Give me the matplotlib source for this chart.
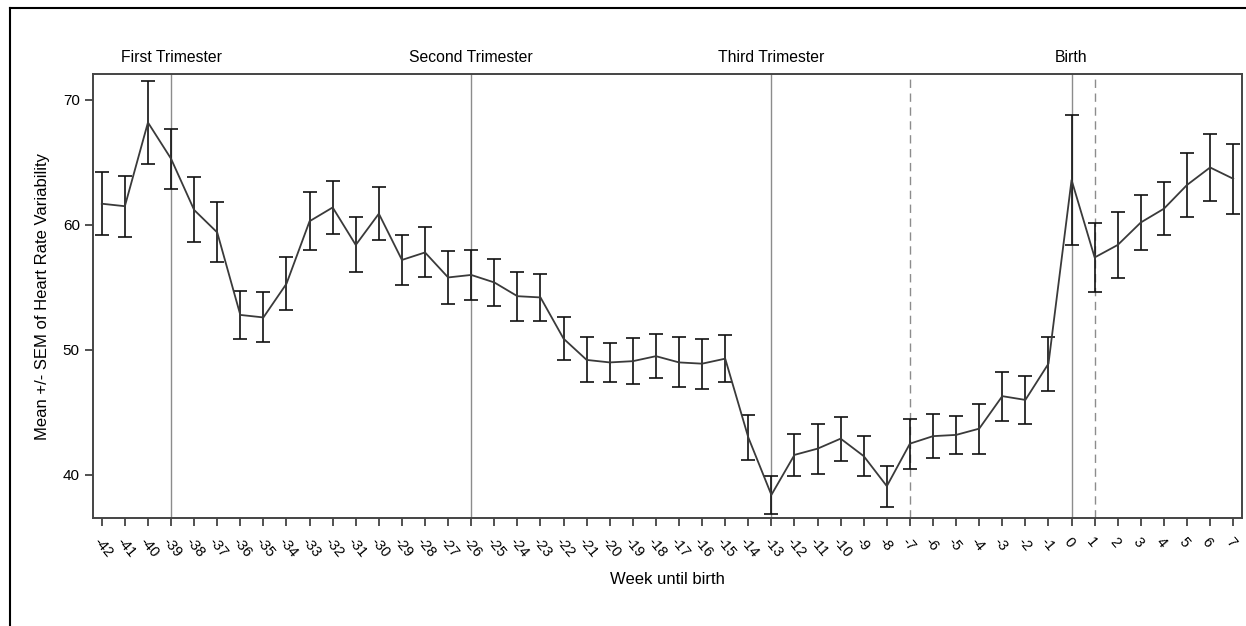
import matplotlib
matplotlib.use("Agg")
import matplotlib.pyplot as plt
from matplotlib.lines import Line2D

plt.rcParams["font.family"] = ["Liberation Sans", "DejaVu Sans"]

# ---------- data ----------
weeks = list(range(-42, 8))
hrv_mean = [61.7, 61.5, 68.2, 65.3, 61.2, 59.4, 52.8, 52.6, 55.3, 60.3,
            61.4, 58.4, 60.9, 57.2, 57.8, 55.8, 56.0, 55.4, 54.3, 54.2,
            50.9, 49.2, 49.0, 49.1, 49.5, 49.0, 48.9, 49.3, 43.0, 38.4,
            41.6, 42.1, 42.9, 41.5, 39.1, 42.5, 43.1, 43.2, 43.7, 46.3,
            46.0, 48.9, 63.6, 57.4, 58.4, 60.2, 61.3, 63.2, 64.6, 63.7]
hrv_sem = [2.5, 2.45, 3.3, 2.4, 2.6, 2.4, 1.9, 2.0, 2.1, 2.3,
           2.1, 2.2, 2.1, 2.0, 2.0, 2.1, 2.0, 1.9, 1.95, 1.9,
           1.7, 1.8, 1.55, 1.85, 1.75, 2.0, 2.0, 1.9, 1.8, 1.5,
           1.7, 2.0, 1.75, 1.6, 1.65, 2.0, 1.75, 1.55, 2.0, 1.95,
           1.9, 2.15, 5.2, 2.75, 2.65, 2.2, 2.1, 2.55, 2.7, 2.8]

period_weeks = [-39, -26, -13, 0]
period_labels = ["First Trimester", "Second Trimester", "Third Trimester", "Birth"]
dashed_weeks = [-7, 1]


fig = plt.figure(figsize=(12.46, 6.26), dpi=100)
ax = fig.add_axes([93 / 1246, 1 - 518 / 626, (1241.5 - 93) / 1246, (518 - 74) / 626])

for w in period_weeks:
    ax.axvline(w, color="#8c8c8c", lw=1.0, zorder=1)
for w in dashed_weeks:
    ax.axvline(w, color="#8c8c8c", lw=1.0, ls=(0, (6, 4)), zorder=1)

ax.errorbar(weeks, hrv_mean, yerr=hrv_sem, fmt="none", ecolor="#111111",
            elinewidth=1.2, capsize=5, capthick=1.2, zorder=2)
ax.plot(weeks, hrv_mean, color="#3a3a3a", lw=1.3, zorder=3)

ax.set_xlim(-42.38, 7.36)
ax.set_ylim(36.55, 72.08)
ax.set_yticks([40, 50, 60, 70])
ax.set_xticks(weeks)
ax.set_xticklabels([str(w) for w in weeks], rotation=-50, ha="left",
                   va="top", rotation_mode="anchor", fontsize=10.5)
ax.tick_params(axis="y", labelsize=11, direction="out", length=6,
               width=1.2, color="#333333")
ax.tick_params(axis="x", direction="out", length=6, width=1.2,
               color="#333333", pad=6)
for s in ax.spines.values():
    s.set_color("#444444")
    s.set_linewidth(1.4)

for w, lab in zip(period_weeks, period_labels):
    ax.text(w, 1.02, lab, transform=ax.get_xaxis_transform(),
            ha="center", va="bottom", fontsize=11.3)

ax.set_ylabel("Mean +/- SEM of Heart Rate Variability", fontsize=12, labelpad=9)
ax.set_xlabel("Week until birth", fontsize=12, labelpad=9)

# outer frame, only left and top edges visible
fig.add_artist(Line2D([9.5 / 1246, 9.5 / 1246], [0, 1 - 7.5 / 626],
                      transform=fig.transFigure, color="black", lw=1.5))
fig.add_artist(Line2D([9.5 / 1246, 1], [1 - 7.5 / 626, 1 - 7.5 / 626],
                      transform=fig.transFigure, color="black", lw=1.5))

fig.savefig("out.png", dpi=100)
